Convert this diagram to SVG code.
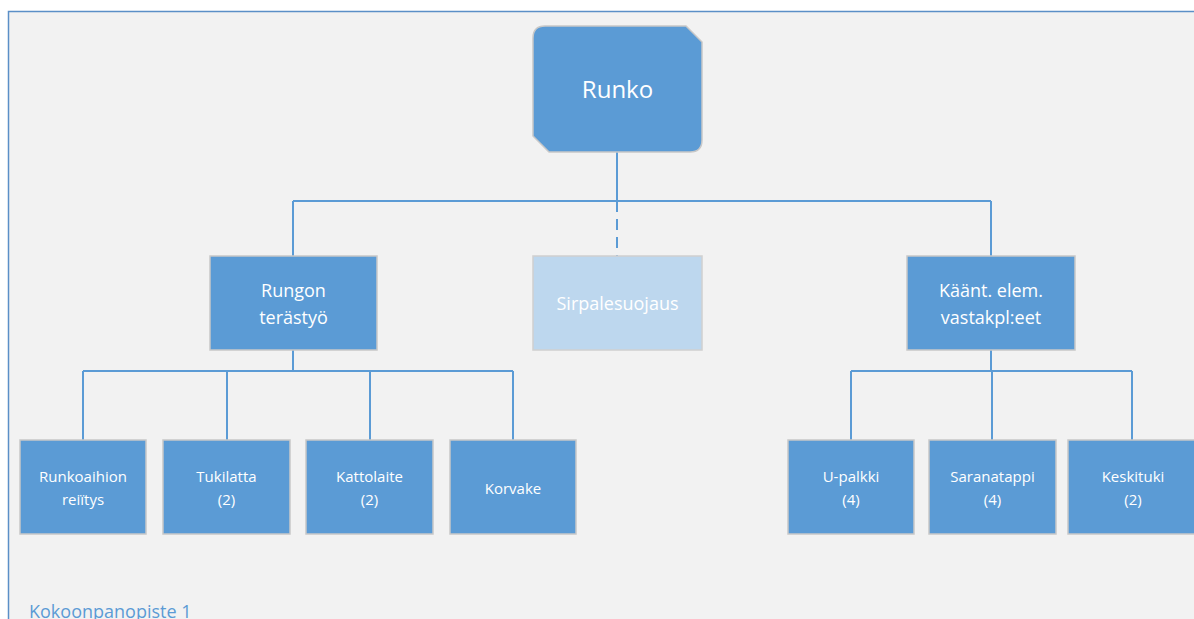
<svg xmlns="http://www.w3.org/2000/svg" width="1194" height="619" viewBox="0 0 1194 619">
  <style>
    .box { fill: #5b9bd5; stroke: #c8c8c8; stroke-width: 1.5; }
    .ghost { fill: #bdd7ee; stroke: #d0d0d0; stroke-width: 1.5; }
    .lbl { font-family: "Open Sans", "Liberation Sans", sans-serif; fill: #ffffff; text-anchor: middle; }
    .l1 { font-size: 24px; }
    .l2 { font-size: 18px; }
    .l3 { font-size: 15px; }
    .wire { stroke: #5b9bd5; stroke-width: 2; fill: none; }
  </style>

  <!-- page background and frame -->
  <rect x="0" y="0" width="1194" height="619" fill="#ffffff"/>
  <rect x="8.5" y="11.5" width="1200" height="620" fill="#f2f2f2" stroke="#5b8fc7" stroke-width="1.5"/>
  <text x="29" y="618" font-family="'Open Sans', 'Liberation Sans', sans-serif" font-size="18" fill="#5b9bd5">Kokoonpanopiste 1</text>

  <!-- connectors -->
  <g id="connectors">
    <path class="wire" d="M617 152 V201 M293 201 H991 M293 201 V256 M991 201 V256"/>
    <path class="wire" d="M617 201 V256" stroke-dasharray="11 7"/>
    <path class="wire" d="M293 350 V371 M83 371 H513 M83 371 V440 M227 371 V440 M370 371 V440 M513 371 V440"/>
    <path class="wire" d="M991 350 V371 M851 371 H1132 M851 371 V440 M992 371 V440 M1132 371 V440"/>
  </g>

  <!-- root: snipped / rounded corners -->
  <g id="runko">
    <path class="box" d="M545 26 H686 L702 42 V140 Q702 152 690 152 H549 L533 136 V38 Q533 26 545 26 Z"/>
    <text class="lbl l1" x="617.5" y="98">Runko</text>
  </g>

  <g id="rungon-terastyo">
    <rect class="box" x="210" y="256" width="167" height="94"/>
    <text class="lbl l2" x="293.5" y="297">Rungon</text>
    <text class="lbl l2" x="293.5" y="324">terästyö</text>
  </g>

  <g id="sirpalesuojaus">
    <rect class="ghost" x="533" y="256" width="169" height="94"/>
    <text class="lbl l2" x="617.5" y="310">Sirpalesuojaus</text>
  </g>

  <g id="kaant-elem">
    <rect class="box" x="907" y="256" width="168" height="94"/>
    <text class="lbl l2" x="991" y="297">Käänt. elem.</text>
    <text class="lbl l2" x="991" y="324">vastakpl:eet</text>
  </g>

  <g id="runkoaihion-reiitys">
    <rect class="box" x="20" y="440" width="126" height="94"/>
    <text class="lbl l3" x="83" y="482">Runkoaihion</text>
    <text class="lbl l3" x="83" y="505">reiïtys</text>
  </g>

  <g id="tukilatta">
    <rect class="box" x="163" y="440" width="127" height="94"/>
    <text class="lbl l3" x="226.5" y="482">Tukilatta</text>
    <text class="lbl l3" x="226.5" y="505">(2)</text>
  </g>

  <g id="kattolaite">
    <rect class="box" x="306" y="440" width="127" height="94"/>
    <text class="lbl l3" x="369.5" y="482">Kattolaite</text>
    <text class="lbl l3" x="369.5" y="505">(2)</text>
  </g>

  <g id="korvake">
    <rect class="box" x="450" y="440" width="126" height="94"/>
    <text class="lbl l3" x="513" y="494">Korvake</text>
  </g>

  <g id="u-palkki">
    <rect class="box" x="788" y="440" width="126" height="94"/>
    <text class="lbl l3" x="851" y="482">U-palkki</text>
    <text class="lbl l3" x="851" y="505">(4)</text>
  </g>

  <g id="saranatappi">
    <rect class="box" x="929" y="440" width="127" height="94"/>
    <text class="lbl l3" x="992.5" y="482">Saranatappi</text>
    <text class="lbl l3" x="992.5" y="505">(4)</text>
  </g>

  <g id="keskituki">
    <rect class="box" x="1068" y="440" width="127" height="94"/>
    <text class="lbl l3" x="1133" y="482">Keskituki</text>
    <text class="lbl l3" x="1133" y="505">(2)</text>
  </g>
</svg>
